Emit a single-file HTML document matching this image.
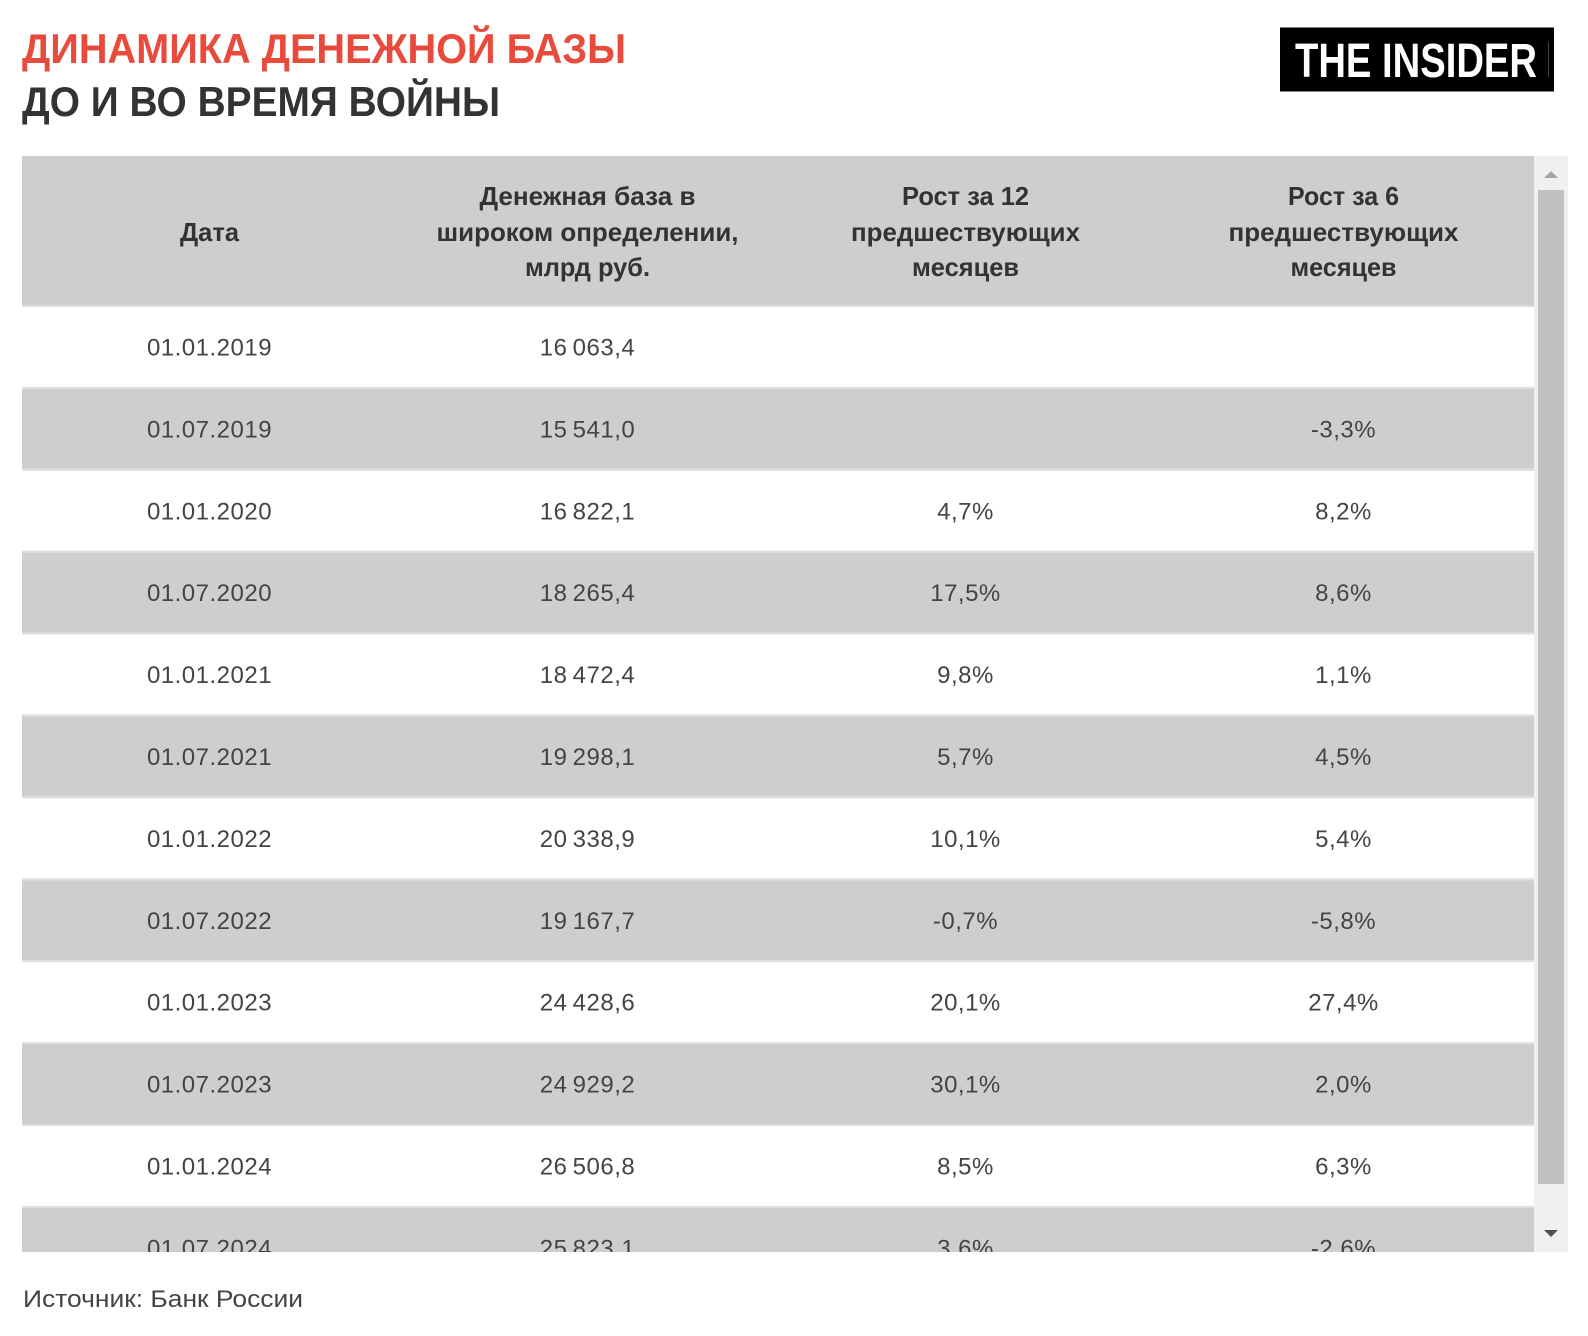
<!DOCTYPE html>
<html>
<head>
<meta charset="utf-8">
<style>
html,body{margin:0;padding:0;background:#fff;}
svg{display:block;}
.t{font-family:"Liberation Sans","DejaVu Sans",sans-serif;}
.h{font-family:"Liberation Sans","DejaVu Sans",sans-serif;font-weight:bold;font-size:26px;fill:#333;text-anchor:middle;}
.c{font-family:"Liberation Sans","DejaVu Sans",sans-serif;font-size:24px;fill:#444;text-anchor:middle;letter-spacing:0.5px;word-spacing:-2px;}
</style>
</head>
<body>
<svg width="1588" height="1336" viewBox="0 0 1588 1336" xmlns="http://www.w3.org/2000/svg">
  <rect x="0" y="0" width="1588" height="1336" fill="#fff"/>
  <!-- Title -->
  <text class="t" x="22" y="63" font-size="42" font-weight="bold" fill="#e84a3c" textLength="604" lengthAdjust="spacingAndGlyphs">ДИНАМИКА ДЕНЕЖНОЙ БАЗЫ</text>
  <text class="t" x="22" y="116" font-size="42" font-weight="bold" fill="#333" textLength="478" lengthAdjust="spacingAndGlyphs">ДО И ВО ВРЕМЯ ВОЙНЫ</text>

  <!-- Logo -->
  <rect x="1280" y="27.5" width="274" height="64" fill="#000"/>
  <text class="t" x="1295" y="77" font-size="48" font-weight="bold" fill="#fff" textLength="242" lengthAdjust="spacingAndGlyphs">THE INSIDER</text>
  <rect x="1548" y="42" width="1" height="35" fill="#444"/>

  <!-- Table clip -->
  <defs>
    <clipPath id="tc"><rect x="22" y="156" width="1512" height="1096"/></clipPath>
  </defs>
  <g clip-path="url(#tc)">
    <rect x="22" y="156" width="1512" height="1096" fill="#fff"/>
    <!-- header -->
    <rect x="22" y="156" width="1512" height="149" fill="#cecece"/>
    <!-- separators and gray rows -->
    <rect x="22" y="305" width="1512" height="2" fill="#dedede"/>
    <rect x="22" y="386.9" width="1512" height="2" fill="#dedede"/>
    <rect x="22" y="388.9" width="1512" height="79.9" fill="#cecece"/>
    <rect x="22" y="468.8" width="1512" height="2" fill="#dedede"/>
    <rect x="22" y="550.7" width="1512" height="2" fill="#dedede"/>
    <rect x="22" y="552.7" width="1512" height="79.9" fill="#cecece"/>
    <rect x="22" y="632.6" width="1512" height="2" fill="#dedede"/>
    <rect x="22" y="714.5" width="1512" height="2" fill="#dedede"/>
    <rect x="22" y="716.5" width="1512" height="79.9" fill="#cecece"/>
    <rect x="22" y="796.4" width="1512" height="2" fill="#dedede"/>
    <rect x="22" y="878.3" width="1512" height="2" fill="#dedede"/>
    <rect x="22" y="880.3" width="1512" height="79.9" fill="#cecece"/>
    <rect x="22" y="960.2" width="1512" height="2" fill="#dedede"/>
    <rect x="22" y="1042.1" width="1512" height="2" fill="#dedede"/>
    <rect x="22" y="1044.1" width="1512" height="79.9" fill="#cecece"/>
    <rect x="22" y="1124" width="1512" height="2" fill="#dedede"/>
    <rect x="22" y="1205.9" width="1512" height="2" fill="#dedede"/>
    <rect x="22" y="1207.9" width="1512" height="79.9" fill="#cecece"/>

    <!-- header text -->
    <text class="h" x="209.5" y="241" textLength="59" lengthAdjust="spacingAndGlyphs">Дата</text>
    <text class="h" x="587.5" y="205" textLength="216" lengthAdjust="spacingAndGlyphs">Денежная база в</text>
    <text class="h" x="587.5" y="241" textLength="302" lengthAdjust="spacingAndGlyphs">широком определении,</text>
    <text class="h" x="587.5" y="276" textLength="125" lengthAdjust="spacingAndGlyphs">млрд руб.</text>
    <text class="h" x="965.5" y="205" textLength="127" lengthAdjust="spacingAndGlyphs">Рост за 12</text>
    <text class="h" x="965.5" y="241" textLength="229" lengthAdjust="spacingAndGlyphs">предшествующих</text>
    <text class="h" x="965.5" y="276" textLength="107" lengthAdjust="spacingAndGlyphs">месяцев</text>
    <text class="h" x="1343.5" y="205" textLength="111" lengthAdjust="spacingAndGlyphs">Рост за 6</text>
    <text class="h" x="1343.5" y="241" textLength="230" lengthAdjust="spacingAndGlyphs">предшествующих</text>
    <text class="h" x="1343.5" y="276" textLength="106" lengthAdjust="spacingAndGlyphs">месяцев</text>

    <!-- rows -->
    <g class="c">
      <text x="209.5" y="355.5">01.01.2019</text><text x="587.5" y="355.5">16 063,4</text>

      <text x="209.5" y="437.4">01.07.2019</text><text x="587.5" y="437.4">15 541,0</text><text x="1343.5" y="437.4">-3,3%</text>

      <text x="209.5" y="519.3">01.01.2020</text><text x="587.5" y="519.3">16 822,1</text><text x="965.5" y="519.3">4,7%</text><text x="1343.5" y="519.3">8,2%</text>

      <text x="209.5" y="601.2">01.07.2020</text><text x="587.5" y="601.2">18 265,4</text><text x="965.5" y="601.2">17,5%</text><text x="1343.5" y="601.2">8,6%</text>

      <text x="209.5" y="683.1">01.01.2021</text><text x="587.5" y="683.1">18 472,4</text><text x="965.5" y="683.1">9,8%</text><text x="1343.5" y="683.1">1,1%</text>

      <text x="209.5" y="765">01.07.2021</text><text x="587.5" y="765">19 298,1</text><text x="965.5" y="765">5,7%</text><text x="1343.5" y="765">4,5%</text>

      <text x="209.5" y="846.9">01.01.2022</text><text x="587.5" y="846.9">20 338,9</text><text x="965.5" y="846.9">10,1%</text><text x="1343.5" y="846.9">5,4%</text>

      <text x="209.5" y="928.8">01.07.2022</text><text x="587.5" y="928.8">19 167,7</text><text x="965.5" y="928.8">-0,7%</text><text x="1343.5" y="928.8">-5,8%</text>

      <text x="209.5" y="1010.7">01.01.2023</text><text x="587.5" y="1010.7">24 428,6</text><text x="965.5" y="1010.7">20,1%</text><text x="1343.5" y="1010.7">27,4%</text>

      <text x="209.5" y="1092.6">01.07.2023</text><text x="587.5" y="1092.6">24 929,2</text><text x="965.5" y="1092.6">30,1%</text><text x="1343.5" y="1092.6">2,0%</text>

      <text x="209.5" y="1174.5">01.01.2024</text><text x="587.5" y="1174.5">26 506,8</text><text x="965.5" y="1174.5">8,5%</text><text x="1343.5" y="1174.5">6,3%</text>

      <text x="209.5" y="1256.4">01.07.2024</text><text x="587.5" y="1256.4">25 823,1</text><text x="965.5" y="1256.4">3,6%</text><text x="1343.5" y="1256.4">-2,6%</text>
    </g>
  </g>

  <!-- Scrollbar -->
  <rect x="1534" y="156" width="34" height="1096" fill="#f0f0f0"/>
  <rect x="1538" y="190" width="26" height="994" fill="#c1c1c1"/>
  <polygon points="1544,178 1558,178 1551,171" fill="#a3a3a3"/>
  <polygon points="1544,1230 1558,1230 1551,1237" fill="#505050"/>

  <!-- Footer -->
  <text class="t" x="23" y="1307" font-size="24" fill="#444" textLength="280" lengthAdjust="spacingAndGlyphs">Источник: Банк России</text>
</svg>
</body>
</html>
